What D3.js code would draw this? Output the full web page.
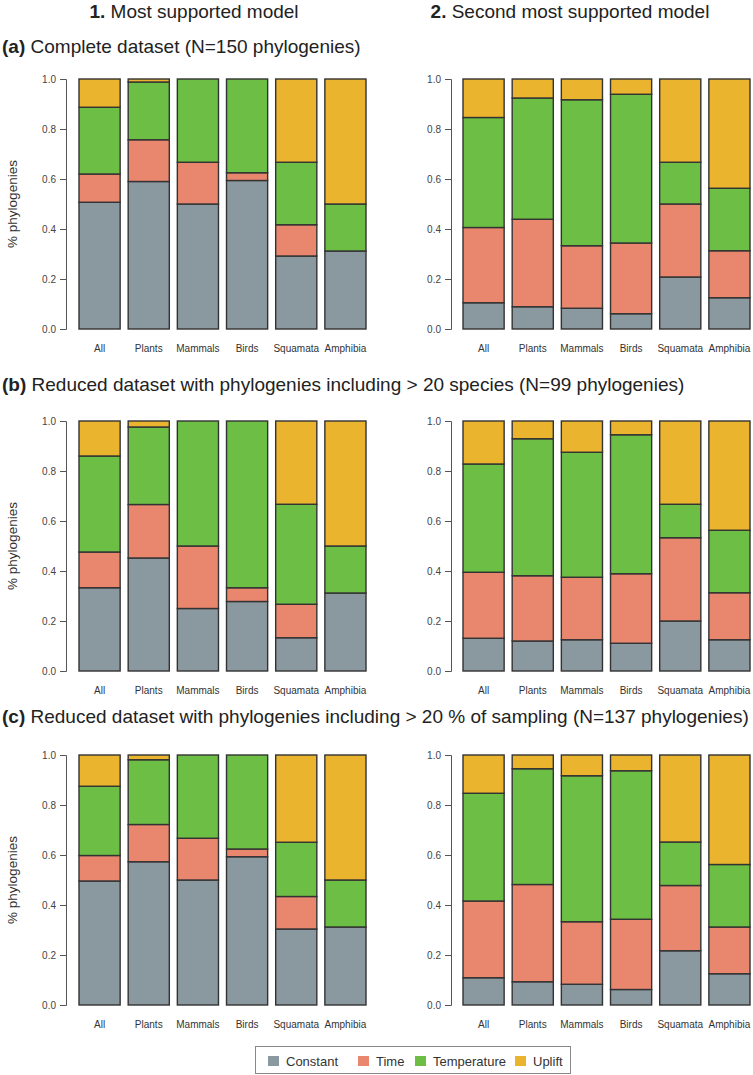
<!DOCTYPE html>
<html><head><meta charset="utf-8">
<script src="https://cdn.jsdelivr.net/npm/d3@7"></script>
<style>
html,body{margin:0;padding:0;background:#fff;}
svg{display:block;font-family:"Liberation Sans",Arial,sans-serif;}
</style></head>
<body>
<svg id="chart" width="753" height="1075"></svg>
<script>
// ---- data ----
const categories = ["All","Plants","Mammals","Birds","Squamata","Amphibia"];
const seriesNames = ["Constant","Time","Temperature","Uplift"];
const seriesColors = ["#8a989f","#e8866e","#6dbe45","#eab42e"];
const yTicks = [0,0.2,0.4,0.6,0.8,1.0];
const columnTitles = ["Most supported model","Second most supported model"];
const rowTitles = ["Complete dataset (N=150 phylogenies)",
  "Reduced dataset with phylogenies including > 20 species (N=99 phylogenies)",
  "Reduced dataset with phylogenies including > 20 % of sampling (N=137 phylogenies)"];

// (a) col 1
const a1Constant = [0.507,0.590,0.500,0.594,0.292,0.312];
const a1Time     = [0.113,0.167,0.167,0.031,0.125,0.000];
const a1Temp     = [0.267,0.231,0.333,0.375,0.250,0.188];
const a1Uplift   = [0.113,0.012,0.000,0.000,0.333,0.500];
// (a) col 2
const a2Constant = [0.105,0.089,0.083,0.061,0.208,0.125];
const a2Time     = [0.301,0.350,0.250,0.283,0.292,0.188];
const a2Temp     = [0.440,0.485,0.584,0.595,0.167,0.250];
const a2Uplift   = [0.154,0.076,0.083,0.061,0.333,0.437];
// (b) col 1
const b1Constant = [0.333,0.452,0.250,0.278,0.133,0.312];
const b1Time     = [0.143,0.214,0.250,0.055,0.134,0.000];
const b1Temp     = [0.384,0.310,0.500,0.667,0.400,0.188];
const b1Uplift   = [0.140,0.024,0.000,0.000,0.333,0.500];
// (b) col 2
const b2Constant = [0.131,0.120,0.125,0.111,0.200,0.125];
const b2Time     = [0.264,0.261,0.250,0.278,0.333,0.188];
const b2Temp     = [0.433,0.548,0.500,0.556,0.134,0.250];
const b2Uplift   = [0.172,0.071,0.125,0.055,0.333,0.437];
// (c) col 1
const c1Constant = [0.496,0.573,0.500,0.593,0.304,0.312];
const c1Time     = [0.102,0.149,0.167,0.031,0.130,0.000];
const c1Temp     = [0.277,0.259,0.333,0.376,0.217,0.188];
const c1Uplift   = [0.125,0.019,0.000,0.000,0.349,0.500];
// (c) col 2
const c2Constant = [0.109,0.093,0.083,0.062,0.217,0.125];
const c2Time     = [0.307,0.389,0.250,0.281,0.261,0.187];
const c2Temp     = [0.431,0.463,0.584,0.594,0.174,0.250];
const c2Uplift   = [0.153,0.055,0.083,0.063,0.348,0.438];

const panelData = [
  [[a1Constant,a1Time,a1Temp,a1Uplift],[a2Constant,a2Time,a2Temp,a2Uplift]],
  [[b1Constant,b1Time,b1Temp,b1Uplift],[b2Constant,b2Time,b2Temp,b2Uplift]],
  [[c1Constant,c1Time,c1Temp,c1Uplift],[c2Constant,c2Time,c2Temp,c2Uplift]]
];

// ---- layout ----
const svg = d3.select("#chart");
const colAxisX = [66, 451];
const colBars = [[79,366],[463,750]];
const rowY = [[329,79],[671,421],[1005,755]];
const rowTitleY = [53, 391, 723];
const rowLetters = ["(a)","(b)","(c)"];

// column titles
columnTitles.forEach((t,i)=>{
  const tx = svg.append("text").attr("x", i===0?194:570).attr("y",18)
    .attr("text-anchor","middle").attr("font-size",19).attr("fill","#222");
  tx.append("tspan").attr("font-weight","bold").text((i+1)+".");
  tx.append("tspan").text(" "+t);
});

rowTitles.forEach((t,r)=>{
  const tx = svg.append("text").attr("x",2).attr("y",rowTitleY[r])
    .attr("font-size",19).attr("fill","#222");
  tx.append("tspan").attr("font-weight","bold").text(rowLetters[r]);
  tx.append("tspan").text(" "+t);
});

for(let r=0;r<3;r++){
  const y = d3.scaleLinear().domain([0,1]).range(rowY[r]);
  // y label
  svg.append("text")
    .attr("transform",`translate(17,${(rowY[r][0]+rowY[r][1])/2}) rotate(-90)`)
    .attr("text-anchor","middle").attr("font-size",13.5).attr("fill","#333")
    .text("% phylogenies");
  for(let c=0;c<2;c++){
    const x = d3.scaleBand().domain(categories).range(colBars[c]).paddingInner(8/49).paddingOuter(0);
    const g = svg.append("g");
    const ax = g.append("g").attr("transform",`translate(${colAxisX[c]},0)`)
      .call(d3.axisLeft(y).tickValues(yTicks).tickFormat(d3.format(".1f")).tickSizeOuter(0).tickSize(6).tickPadding(4));
    ax.selectAll("path,line").attr("stroke","#555");
    ax.selectAll("text").attr("font-size",10).attr("fill","#444").attr("font-family","Liberation Sans, Arial, sans-serif");

    const series = panelData[r][c];
    const rows = categories.map((cat,i)=>{
      const o = {cat};
      seriesNames.forEach((s,k)=>o[s]=series[k][i]);
      return o;
    });
    const stacked = d3.stack().keys(seriesNames)(rows);
    stacked.forEach((layer,k)=>{
      g.selectAll(null).data(layer.filter(d=>d[1]-d[0]>0)).enter().append("rect")
        .attr("x",d=>x(d.data.cat)).attr("width",x.bandwidth())
        .attr("y",d=>y(d[1])).attr("height",d=>y(d[0])-y(d[1]))
        .attr("fill",seriesColors[k]).attr("stroke","#333").attr("stroke-width",1.4);
    });
    g.selectAll(null).data(categories).enter().append("text")
      .attr("x",d=>x(d)+x.bandwidth()/2).attr("y",rowY[r][0]+23)
      .attr("text-anchor","middle").attr("font-size",10).attr("fill","#333")
      .text(d=>d);
  }
}

// legend
const lg = svg.append("g");
lg.append("rect").attr("x",255.5).attr("y",1046.5).attr("width",315).attr("height",27)
  .attr("fill","#fff").attr("stroke","#888").attr("stroke-width",1);
const legX = [268,358,415,515];
seriesNames.forEach((s,k)=>{
  lg.append("rect").attr("x",legX[k]).attr("y",1056).attr("width",11).attr("height",10)
    .attr("fill",seriesColors[k]);
  lg.append("text").attr("x",legX[k]+18).attr("y",1066).attr("font-size",13).attr("fill","#333").text(s);
});
</script>
</body></html>
